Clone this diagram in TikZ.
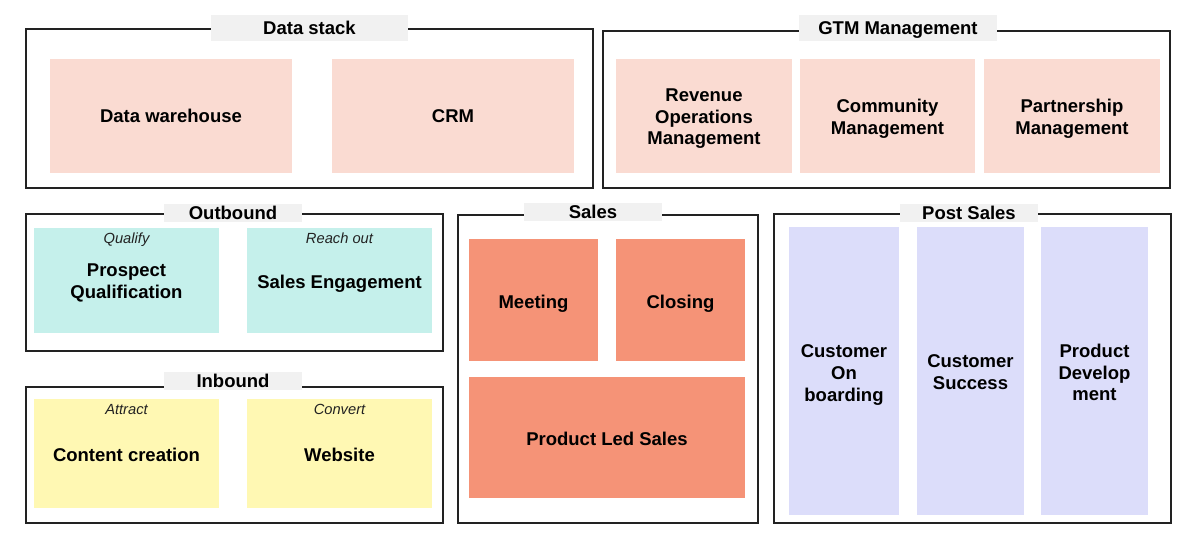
\documentclass[tikz,border=0pt]{standalone}
\usepackage{fontspec}
\setmainfont{Liberation Sans}
\definecolor{pinkl}{HTML}{FADBD2}
\definecolor{teal}{HTML}{C5F0EB}
\definecolor{yel}{HTML}{FFF8B3}
\definecolor{salmon}{HTML}{F59377}
\definecolor{lav}{HTML}{DCDDFA}
\definecolor{tabg}{HTML}{F1F1F1}
\definecolor{edge}{HTML}{222222}
\tikzset{
  outer/.style={draw=edge, line width=2.6pt, fill=none, inner sep=0pt, minimum width=#1},
  cell/.style={inner sep=0pt, align=center, text=black, text depth=0pt, font=\fontsize{18.5}{21.6}\selectfont\bfseries},
  tabbox/.style={fill=tabg, inner sep=0pt, text height=13.3pt, text depth=0pt, font=\fontsize{18.5}{21.6}\selectfont\bfseries},
  hint/.style={inner sep=0pt, text=edge, text depth=0pt, font=\fontsize{14.7}{17}\selectfont\itshape},
}
\begin{document}
\begin{tikzpicture}[x=1pt,y=-1pt]
\useasboundingbox (0,0) rectangle (1200,544);
% outer frames
\node[outer=567pt, minimum height=159pt] (ds) at (309.5,108.5) {};
\node[outer=567pt, minimum height=157pt] (gtm) at (886.5,109.5) {};
\node[outer=417pt, minimum height=137pt] (ob) at (234.5,282.5) {};
\node[outer=417pt, minimum height=136pt] (ib) at (234.5,455) {};
\node[outer=300pt, minimum height=308pt] (sl) at (608,369) {};
\node[outer=397pt, minimum height=309pt] (ps) at (972.5,368.5) {};
% tabs
\node[tabbox, minimum width=197pt, minimum height=26pt] (dstab) at (309.5,28) {Data stack};
\node[tabbox, minimum width=198pt, minimum height=26pt] (gtmtab) at (898,28) {GTM Management};
\node[tabbox, minimum width=138pt, minimum height=18pt] (obtab) at (233,212.5) {Outbound};
\node[tabbox, minimum width=138pt, minimum height=18pt] (ibtab) at (233,381) {Inbound};
\node[tabbox, minimum width=138pt, minimum height=18pt] (sltab) at (593,211.5) {Sales};
\node[tabbox, minimum width=138pt, minimum height=18pt] (pstab) at (969,213) {Post Sales};
% data stack
\node[cell, fill=pinkl, minimum width=242pt, minimum height=114pt] (dw) at (171,116) {Data warehouse};
\node[cell, fill=pinkl, minimum width=242pt, minimum height=114pt] (crm) at (453,116) {CRM};
% GTM
\node[cell, fill=pinkl, minimum width=176pt, minimum height=114pt] (rev) at (704,116) {};
\node[cell] (revt) at (704,117) {Revenue\\Operations\\Management};
\node[cell, fill=pinkl, minimum width=175pt, minimum height=114pt] (com) at (887.5,116) {};
\node[cell] (comt) at (887.5,117) {Community\\Management};
\node[cell, fill=pinkl, minimum width=176pt, minimum height=114pt] (par) at (1072,116) {};
\node[cell] (part) at (1072,117) {Partnership\\Management};
% outbound
\node[cell, fill=teal, minimum width=185pt, minimum height=105pt] (pq) at (126.5,280.5) {};
\node[cell] (pqt) at (126.5,281) {Prospect\\Qualification};
\node[cell, fill=teal, minimum width=185pt, minimum height=105pt] (se) at (339.5,280.5) {};
\node[cell] (set) at (339.5,282) {Sales Engagement};
\node[hint] (q) at (126.5,238.5) {Qualify};
\node[hint] (r) at (339.5,238.5) {Reach out};
% inbound
\node[cell, fill=yel, minimum width=185pt, minimum height=109pt] (cc) at (126.5,453.5) {};
\node[cell] (cct) at (126.5,455) {Content creation};
\node[cell, fill=yel, minimum width=185pt, minimum height=109pt] (web) at (339.5,453.5) {};
\node[cell] (webt) at (339.5,455) {Website};
\node[hint] (a) at (126.5,409.5) {Attract};
\node[hint] (c) at (339.5,409.5) {Convert};
% sales
\node[cell, fill=salmon, minimum width=129pt, minimum height=122pt] (meet) at (533.5,300) {};
\node[cell] (meett) at (533.5,301.5) {Meeting};
\node[cell, fill=salmon, minimum width=129pt, minimum height=122pt] (clos) at (680.5,300) {};
\node[cell] (clost) at (680.5,301.5) {Closing};
\node[cell, fill=salmon, minimum width=276pt, minimum height=121pt] (pls) at (607,437.5) {};
\node[cell] (plst) at (607,438.5) {Product Led Sales};
% post sales
\node[cell, fill=lav, minimum width=110pt, minimum height=288pt] (co) at (844,371) {};
\node[cell] (cot) at (844,373) {Customer\\On\\boarding};
\node[cell, fill=lav, minimum width=107pt, minimum height=288pt] (cs) at (970.5,371) {};
\node[cell] (cst) at (970.5,372) {Customer\\Success};
\node[cell, fill=lav, minimum width=107pt, minimum height=288pt] (pd) at (1094.5,371) {};
\node[cell] (pdt) at (1094.5,372.5) {Product\\Develop\\ment};
\end{tikzpicture}
\end{document}
